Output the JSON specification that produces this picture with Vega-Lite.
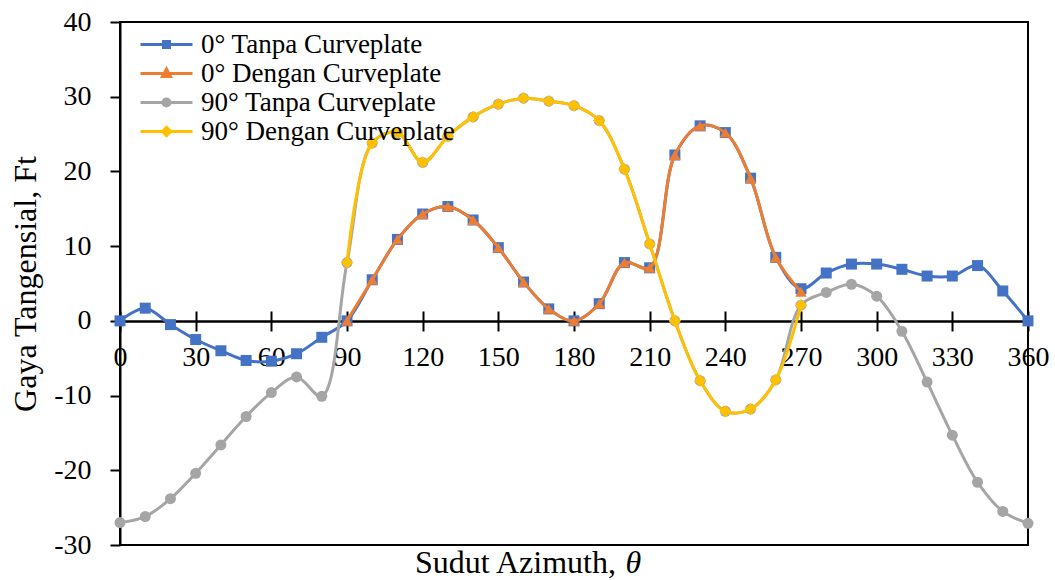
{
  "$schema": "https://vega.github.io/schema/vega-lite/v6.json",
  "width": 908,
  "height": 523,
  "autosize": {"type": "none"},
  "padding": {"left": 120, "top": 22, "right": 27, "bottom": 35},
  "background": "white",
  "config": {
    "view": {"stroke": "#000", "strokeWidth": 2},
    "font": "Liberation Serif",
    "axis": {
      "grid": false,
      "domainColor": "#000",
      "tickColor": "#000",
      "labelColor": "#000",
      "titleColor": "#000",
      "domainWidth": 2,
      "tickWidth": 2,
      "labelFont": "Liberation Serif",
      "titleFont": "Liberation Serif",
      "labelFontSize": 28,
      "titleFontSize": 32,
      "titleFontWeight": "normal"
    }
  },
  "data": {
    "values": [
      {"series": "0° Tanpa Curveplate", "azimuth": 0, "ft": 0},
      {"series": "0° Tanpa Curveplate", "azimuth": 10, "ft": 1.7},
      {"series": "0° Tanpa Curveplate", "azimuth": 20, "ft": -0.5},
      {"series": "0° Tanpa Curveplate", "azimuth": 30, "ft": -2.5},
      {"series": "0° Tanpa Curveplate", "azimuth": 40, "ft": -4.0},
      {"series": "0° Tanpa Curveplate", "azimuth": 50, "ft": -5.3},
      {"series": "0° Tanpa Curveplate", "azimuth": 60, "ft": -5.4},
      {"series": "0° Tanpa Curveplate", "azimuth": 70, "ft": -4.4},
      {"series": "0° Tanpa Curveplate", "azimuth": 80, "ft": -2.2},
      {"series": "0° Tanpa Curveplate", "azimuth": 90, "ft": 0},
      {"series": "0° Tanpa Curveplate", "azimuth": 100, "ft": 5.5},
      {"series": "0° Tanpa Curveplate", "azimuth": 110, "ft": 10.9},
      {"series": "0° Tanpa Curveplate", "azimuth": 120, "ft": 14.3},
      {"series": "0° Tanpa Curveplate", "azimuth": 130, "ft": 15.3},
      {"series": "0° Tanpa Curveplate", "azimuth": 140, "ft": 13.5},
      {"series": "0° Tanpa Curveplate", "azimuth": 150, "ft": 9.8},
      {"series": "0° Tanpa Curveplate", "azimuth": 160, "ft": 5.2},
      {"series": "0° Tanpa Curveplate", "azimuth": 170, "ft": 1.6},
      {"series": "0° Tanpa Curveplate", "azimuth": 180, "ft": 0},
      {"series": "0° Tanpa Curveplate", "azimuth": 190, "ft": 2.3},
      {"series": "0° Tanpa Curveplate", "azimuth": 200, "ft": 7.8},
      {"series": "0° Tanpa Curveplate", "azimuth": 210, "ft": 7.1},
      {"series": "0° Tanpa Curveplate", "azimuth": 220, "ft": 22.2},
      {"series": "0° Tanpa Curveplate", "azimuth": 230, "ft": 26.1},
      {"series": "0° Tanpa Curveplate", "azimuth": 240, "ft": 25.2},
      {"series": "0° Tanpa Curveplate", "azimuth": 250, "ft": 19.1},
      {"series": "0° Tanpa Curveplate", "azimuth": 260, "ft": 8.5},
      {"series": "0° Tanpa Curveplate", "azimuth": 270, "ft": 4.3},
      {"series": "0° Tanpa Curveplate", "azimuth": 280, "ft": 6.4},
      {"series": "0° Tanpa Curveplate", "azimuth": 290, "ft": 7.6},
      {"series": "0° Tanpa Curveplate", "azimuth": 300, "ft": 7.6},
      {"series": "0° Tanpa Curveplate", "azimuth": 310, "ft": 6.9},
      {"series": "0° Tanpa Curveplate", "azimuth": 320, "ft": 6.0},
      {"series": "0° Tanpa Curveplate", "azimuth": 330, "ft": 6.0},
      {"series": "0° Tanpa Curveplate", "azimuth": 340, "ft": 7.4},
      {"series": "0° Tanpa Curveplate", "azimuth": 350, "ft": 4.0},
      {"series": "0° Tanpa Curveplate", "azimuth": 360, "ft": 0},
      {"series": "0° Dengan Curveplate", "azimuth": 90, "ft": 0},
      {"series": "0° Dengan Curveplate", "azimuth": 100, "ft": 5.5},
      {"series": "0° Dengan Curveplate", "azimuth": 110, "ft": 10.9},
      {"series": "0° Dengan Curveplate", "azimuth": 120, "ft": 14.3},
      {"series": "0° Dengan Curveplate", "azimuth": 130, "ft": 15.3},
      {"series": "0° Dengan Curveplate", "azimuth": 140, "ft": 13.5},
      {"series": "0° Dengan Curveplate", "azimuth": 150, "ft": 9.8},
      {"series": "0° Dengan Curveplate", "azimuth": 160, "ft": 5.2},
      {"series": "0° Dengan Curveplate", "azimuth": 170, "ft": 1.6},
      {"series": "0° Dengan Curveplate", "azimuth": 180, "ft": 0},
      {"series": "0° Dengan Curveplate", "azimuth": 190, "ft": 2.3},
      {"series": "0° Dengan Curveplate", "azimuth": 200, "ft": 7.8},
      {"series": "0° Dengan Curveplate", "azimuth": 210, "ft": 7.1},
      {"series": "0° Dengan Curveplate", "azimuth": 220, "ft": 22.2},
      {"series": "0° Dengan Curveplate", "azimuth": 230, "ft": 26.1},
      {"series": "0° Dengan Curveplate", "azimuth": 240, "ft": 25.2},
      {"series": "0° Dengan Curveplate", "azimuth": 250, "ft": 19.1},
      {"series": "0° Dengan Curveplate", "azimuth": 260, "ft": 8.5},
      {"series": "0° Dengan Curveplate", "azimuth": 270, "ft": 3.9},
      {"series": "90° Tanpa Curveplate", "azimuth": 0, "ft": -27.0},
      {"series": "90° Tanpa Curveplate", "azimuth": 10, "ft": -26.2},
      {"series": "90° Tanpa Curveplate", "azimuth": 20, "ft": -23.8},
      {"series": "90° Tanpa Curveplate", "azimuth": 30, "ft": -20.4},
      {"series": "90° Tanpa Curveplate", "azimuth": 40, "ft": -16.6},
      {"series": "90° Tanpa Curveplate", "azimuth": 50, "ft": -12.8},
      {"series": "90° Tanpa Curveplate", "azimuth": 60, "ft": -9.6},
      {"series": "90° Tanpa Curveplate", "azimuth": 70, "ft": -7.5},
      {"series": "90° Tanpa Curveplate", "azimuth": 80, "ft": -10.1},
      {"series": "90° Tanpa Curveplate", "azimuth": 90, "ft": 7.8},
      {"series": "90° Tanpa Curveplate", "azimuth": 100, "ft": 23.8},
      {"series": "90° Tanpa Curveplate", "azimuth": 110, "ft": 25.2},
      {"series": "90° Tanpa Curveplate", "azimuth": 120, "ft": 21.2},
      {"series": "90° Tanpa Curveplate", "azimuth": 130, "ft": 24.7},
      {"series": "90° Tanpa Curveplate", "azimuth": 140, "ft": 27.3},
      {"series": "90° Tanpa Curveplate", "azimuth": 150, "ft": 29.0},
      {"series": "90° Tanpa Curveplate", "azimuth": 160, "ft": 29.8},
      {"series": "90° Tanpa Curveplate", "azimuth": 170, "ft": 29.4},
      {"series": "90° Tanpa Curveplate", "azimuth": 180, "ft": 28.8},
      {"series": "90° Tanpa Curveplate", "azimuth": 190, "ft": 26.8},
      {"series": "90° Tanpa Curveplate", "azimuth": 200, "ft": 20.3},
      {"series": "90° Tanpa Curveplate", "azimuth": 210, "ft": 10.3},
      {"series": "90° Tanpa Curveplate", "azimuth": 220, "ft": 0},
      {"series": "90° Tanpa Curveplate", "azimuth": 230, "ft": -8.0},
      {"series": "90° Tanpa Curveplate", "azimuth": 240, "ft": -12.1},
      {"series": "90° Tanpa Curveplate", "azimuth": 250, "ft": -11.8},
      {"series": "90° Tanpa Curveplate", "azimuth": 260, "ft": -7.9},
      {"series": "90° Tanpa Curveplate", "azimuth": 270, "ft": 2.1},
      {"series": "90° Tanpa Curveplate", "azimuth": 280, "ft": 3.8},
      {"series": "90° Tanpa Curveplate", "azimuth": 290, "ft": 4.9},
      {"series": "90° Tanpa Curveplate", "azimuth": 300, "ft": 3.3},
      {"series": "90° Tanpa Curveplate", "azimuth": 310, "ft": -1.4},
      {"series": "90° Tanpa Curveplate", "azimuth": 320, "ft": -8.2},
      {"series": "90° Tanpa Curveplate", "azimuth": 330, "ft": -15.3},
      {"series": "90° Tanpa Curveplate", "azimuth": 340, "ft": -21.6},
      {"series": "90° Tanpa Curveplate", "azimuth": 350, "ft": -25.5},
      {"series": "90° Tanpa Curveplate", "azimuth": 360, "ft": -27.1},
      {"series": "90° Dengan Curveplate", "azimuth": 90, "ft": 7.8},
      {"series": "90° Dengan Curveplate", "azimuth": 100, "ft": 23.8},
      {"series": "90° Dengan Curveplate", "azimuth": 110, "ft": 25.2},
      {"series": "90° Dengan Curveplate", "azimuth": 120, "ft": 21.2},
      {"series": "90° Dengan Curveplate", "azimuth": 130, "ft": 24.7},
      {"series": "90° Dengan Curveplate", "azimuth": 140, "ft": 27.3},
      {"series": "90° Dengan Curveplate", "azimuth": 150, "ft": 29.0},
      {"series": "90° Dengan Curveplate", "azimuth": 160, "ft": 29.8},
      {"series": "90° Dengan Curveplate", "azimuth": 170, "ft": 29.4},
      {"series": "90° Dengan Curveplate", "azimuth": 180, "ft": 28.8},
      {"series": "90° Dengan Curveplate", "azimuth": 190, "ft": 26.8},
      {"series": "90° Dengan Curveplate", "azimuth": 200, "ft": 20.3},
      {"series": "90° Dengan Curveplate", "azimuth": 210, "ft": 10.3},
      {"series": "90° Dengan Curveplate", "azimuth": 220, "ft": 0},
      {"series": "90° Dengan Curveplate", "azimuth": 230, "ft": -8.0},
      {"series": "90° Dengan Curveplate", "azimuth": 240, "ft": -12.1},
      {"series": "90° Dengan Curveplate", "azimuth": 250, "ft": -11.8},
      {"series": "90° Dengan Curveplate", "azimuth": 260, "ft": -7.9},
      {"series": "90° Dengan Curveplate", "azimuth": 270, "ft": 2.1}
    ]
  },
  "encoding": {
    "y": {
      "field": "ft",
      "type": "quantitative",
      "scale": {"domain": [-30, 40], "nice": false, "zero": false},
      "axis": {
        "values": [-30, -20, -10, 0, 10, 20, 30, 40],
        "labelExpr": "'' + datum.value",
        "tickSize": 10,
        "labelPadding": 19,
        "title": "Gaya Tangensial, Ft",
        "titleX": -85,
        "titleY": 261.5,
        "titleAngle": -90,
        "titleAlign": "center",
        "titleBaseline": "alphabetic"
      }
    }
  },
  "layer": [
    {
      "transform": [{"filter": {"field": "series", "equal": "0° Tanpa Curveplate"}}],
      "mark": {"type": "line", "color": "#4472C4", "strokeWidth": 3, "interpolate": "catmull-rom"},
      "encoding": {
        "x": {
          "field": "azimuth",
          "type": "quantitative",
          "scale": {"domain": [0, 360], "nice": false, "zero": false},
          "axis": {
            "orient": "bottom",
            "offset": -224,
            "values": [0, 30, 60, 90, 120, 150, 180, 210, 240, 270, 300, 330, 360],
            "tickSize": 10,
            "labelPadding": 12,
            "labelFlush": false,
            "labelOverlap": false,
            "domainWidth": 2.5,
            "title": "Sudut Azimuth,",
            "titleX": 294.5,
            "titleY": 251,
            "titleAlign": "left",
            "titleBaseline": "alphabetic"
          }
        }
      }
    },
    {
      "transform": [{"filter": {"field": "series", "equal": "0° Tanpa Curveplate"}}],
      "mark": {"type": "point", "shape": "square", "filled": true, "size": 121, "color": "#4472C4", "opacity": 1},
      "encoding": {
        "x": {
          "field": "azimuth",
          "type": "quantitative",
          "scale": {"domain": [0, 360], "nice": false, "zero": false},
          "axis": {
            "orient": "top",
            "offset": -299,
            "values": [0, 30, 60, 90, 120, 150, 180, 210, 240, 270, 300, 330, 360],
            "tickSize": 10,
            "labels": false,
            "domain": false,
            "title": "θ",
            "titleFontStyle": "italic",
            "titleX": 505,
            "titleY": 251,
            "titleAlign": "left",
            "titleBaseline": "alphabetic"
          }
        }
      }
    },
    {
      "transform": [{"filter": {"field": "series", "equal": "0° Dengan Curveplate"}}],
      "mark": {"type": "line", "color": "#ED7D31", "strokeWidth": 3, "interpolate": "catmull-rom"},
      "encoding": {"x": {"field": "azimuth", "type": "quantitative", "scale": {"domain": [0, 360], "nice": false, "zero": false}, "axis": null}}
    },
    {
      "transform": [{"filter": {"field": "series", "equal": "0° Dengan Curveplate"}}],
      "mark": {"type": "point", "shape": "triangle-up", "filled": true, "size": 130, "color": "#ED7D31", "opacity": 1},
      "encoding": {"x": {"field": "azimuth", "type": "quantitative", "scale": {"domain": [0, 360], "nice": false, "zero": false}, "axis": null}}
    },
    {
      "transform": [{"filter": {"field": "series", "equal": "90° Tanpa Curveplate"}}],
      "mark": {"type": "line", "color": "#A5A5A5", "strokeWidth": 3, "interpolate": "catmull-rom"},
      "encoding": {"x": {"field": "azimuth", "type": "quantitative", "scale": {"domain": [0, 360], "nice": false, "zero": false}, "axis": null}}
    },
    {
      "transform": [{"filter": {"field": "series", "equal": "90° Tanpa Curveplate"}}],
      "mark": {"type": "point", "shape": "circle", "filled": true, "size": 121, "color": "#A5A5A5", "opacity": 1},
      "encoding": {"x": {"field": "azimuth", "type": "quantitative", "scale": {"domain": [0, 360], "nice": false, "zero": false}, "axis": null}}
    },
    {
      "transform": [{"filter": {"field": "series", "equal": "90° Dengan Curveplate"}}],
      "mark": {"type": "line", "color": "#FFC000", "strokeWidth": 3, "interpolate": "catmull-rom"},
      "encoding": {"x": {"field": "azimuth", "type": "quantitative", "scale": {"domain": [0, 360], "nice": false, "zero": false}, "axis": null}}
    },
    {
      "transform": [{"filter": {"field": "series", "equal": "90° Dengan Curveplate"}}],
      "mark": {"type": "point", "shape": "diamond", "filled": true, "size": 150, "color": "#FFC000", "opacity": 1},
      "encoding": {"x": {"field": "azimuth", "type": "quantitative", "scale": {"domain": [0, 360], "nice": false, "zero": false}, "axis": null}}
    },
    {
      "mark": {"type": "point", "filled": true, "opacity": 0},
      "encoding": {
        "x": {"field": "azimuth", "type": "quantitative", "scale": {"domain": [0, 360], "nice": false, "zero": false}, "axis": null},
        "color": {
          "field": "series",
          "type": "nominal",
          "scale": {
            "domain": ["0° Tanpa Curveplate", "0° Dengan Curveplate", "90° Tanpa Curveplate", "90° Dengan Curveplate"],
            "range": ["#4472C4", "#ED7D31", "#A5A5A5", "#FFC000"]
          },
          "legend": {
            "orient": "none", "legendX": 33, "legendY": 9, "title": null,
            "labelFontSize": 27, "labelFont": "Liberation Serif", "labelColor": "#000",
            "symbolSize": 400, "symbolStrokeWidth": 3, "symbolOpacity": 1,
            "labelOffset": 21, "rowPadding": 1, "padding": 0, "labelLimit": 400,
            "encode": {"symbols": {"update": {"stroke": {"scale": "color", "field": "value"}}}}
          }
        },
        "shape": {
          "field": "series",
          "type": "nominal",
          "scale": {
            "domain": ["0° Tanpa Curveplate", "0° Dengan Curveplate", "90° Tanpa Curveplate", "90° Dengan Curveplate"],
            "range": [
              "M-2.6,0H2.6M-0.3,-0.3H0.3V0.3H-0.3Z",
              "M-2.6,0H2.6M0,-0.45L0.4,0.3H-0.4Z",
              "M-2.6,0H2.6M-0.35,0A0.35,0.35,0,1,1,0.35,0A0.35,0.35,0,1,1,-0.35,0Z",
              "M-2.6,0H2.6M0,-0.42L0.42,0L0,0.42L-0.42,0Z"
            ]
          },
          "legend": {
            "orient": "none", "legendX": 33, "legendY": 9, "title": null,
            "labelFontSize": 27, "labelFont": "Liberation Serif", "labelColor": "#000",
            "symbolSize": 400, "symbolStrokeWidth": 3, "symbolOpacity": 1,
            "labelOffset": 21, "rowPadding": 1, "padding": 0, "labelLimit": 400,
            "encode": {"symbols": {"update": {"stroke": {"scale": "color", "field": "value"}}}}
          }
        }
      }
    }
  ],
  "resolve": {"axis": {"x": "independent"}}
}
